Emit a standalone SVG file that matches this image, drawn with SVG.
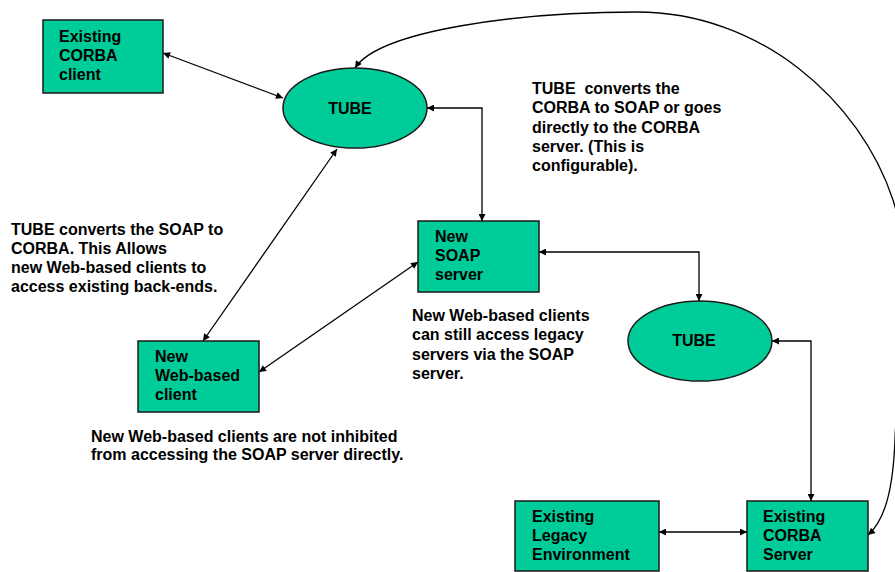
<svg xmlns="http://www.w3.org/2000/svg" width="895" height="572" viewBox="0 0 895 572">
  <style>
    .box { fill: #00CC99; stroke: #1a1a1a; stroke-width: 1.5; }
    .lbl { font-family: "Liberation Sans", Arial, sans-serif; font-size: 16px; font-weight: bold; fill: #000; }
    .mid { text-anchor: middle; }
    .wire { fill: none; stroke: #000; stroke-width: 1.3; marker-start: url(#ah); marker-end: url(#ah); }
  </style>
  <defs>
    <marker id="ah" viewBox="0 0 10 10" refX="10" refY="5" markerWidth="9" markerHeight="7" markerUnits="userSpaceOnUse" orient="auto-start-reverse">
      <path d="M0,0 L10,5 L0,10 z" fill="#000"/>
    </marker>
  </defs>
  <rect width="895" height="572" fill="#fff"/>

  <!-- connectors -->
  <g id="connectors">
    <path class="wire" d="M163,53 L283,98"/>
    <path class="wire" d="M427,108 H482 V221"/>
    <path class="wire" d="M539,252 H699 V301"/>
    <path class="wire" d="M772,341 H811 V501"/>
    <path class="wire" d="M659,532 H747"/>
    <path class="wire" d="M337,149 L203,341"/>
    <path class="wire" d="M259,372 L418,262"/>
    <path class="wire" d="M355,68 C380,30 520,12 637,12 C760,12 860,100 893,200 C916,270 896,390 895,440 C893,490 885,520 868,535"/>
  </g>

  <!-- nodes -->
  <g id="corba-client">
    <rect class="box" x="43" y="20" width="120" height="73"/>
    <text class="lbl" x="59" y="42">Existing</text>
    <text class="lbl" x="59" y="61">CORBA</text>
    <text class="lbl" x="59" y="80">client</text>
  </g>

  <g id="tube-1">
    <ellipse class="box" cx="355" cy="108" rx="72" ry="40"/>
    <text class="lbl mid" x="350" y="114">TUBE</text>
  </g>

  <g id="soap-server">
    <rect class="box" x="418" y="221" width="121" height="71"/>
    <text class="lbl" x="435" y="242">New</text>
    <text class="lbl" x="435" y="261">SOAP</text>
    <text class="lbl" x="435" y="280">server</text>
  </g>

  <g id="tube-2">
    <ellipse class="box" cx="700" cy="341" rx="72" ry="40"/>
    <text class="lbl mid" x="694" y="346">TUBE</text>
  </g>

  <g id="web-client">
    <rect class="box" x="138" y="341" width="121" height="71"/>
    <text class="lbl" x="155" y="362">New</text>
    <text class="lbl" x="155" y="381">Web-based</text>
    <text class="lbl" x="155" y="400">client</text>
  </g>

  <g id="legacy-env">
    <rect class="box" x="515" y="501" width="144" height="70"/>
    <text class="lbl" x="532" y="522">Existing</text>
    <text class="lbl" x="532" y="541">Legacy</text>
    <text class="lbl" x="532" y="560">Environment</text>
  </g>

  <g id="corba-server">
    <rect class="box" x="747" y="501" width="121" height="70"/>
    <text class="lbl" x="763" y="522">Existing</text>
    <text class="lbl" x="763" y="541">CORBA</text>
    <text class="lbl" x="763" y="560">Server</text>
  </g>

  <!-- notes -->
  <g id="note-soap-to-corba">
    <text class="lbl" x="11" y="235">TUBE converts the SOAP to</text>
    <text class="lbl" x="11" y="254">CORBA. This Allows</text>
    <text class="lbl" x="11" y="273">new Web-based clients to</text>
    <text class="lbl" x="11" y="292">access existing back-ends.</text>
  </g>

  <g id="note-corba-to-soap">
    <text class="lbl" x="532" y="94" xml:space="preserve">TUBE  converts the</text>
    <text class="lbl" x="532" y="113">CORBA to SOAP or goes</text>
    <text class="lbl" x="532" y="133">directly to the CORBA</text>
    <text class="lbl" x="532" y="152">server. (This is</text>
    <text class="lbl" x="532" y="171">configurable).</text>
  </g>

  <g id="note-legacy-access">
    <text class="lbl" x="412" y="321">New Web-based clients</text>
    <text class="lbl" x="412" y="340">can still access legacy</text>
    <text class="lbl" x="412" y="360">servers via the SOAP</text>
    <text class="lbl" x="412" y="379">server.</text>
  </g>

  <g id="note-direct-access">
    <text class="lbl" x="91" y="442">New Web-based clients are not inhibited</text>
    <text class="lbl" x="91" y="460">from accessing the SOAP server directly.</text>
  </g>
</svg>
